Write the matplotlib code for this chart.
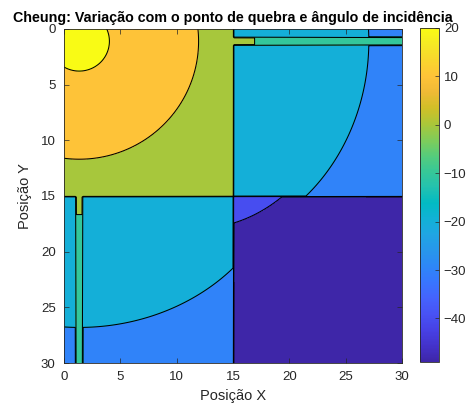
import numpy as np
import matplotlib
matplotlib.use('Agg')
import matplotlib.pyplot as plt
from matplotlib.colors import LinearSegmentedColormap, Normalize
from matplotlib.cm import ScalarMappable

plt.rcParams['font.family'] = ['Liberation Sans', 'DejaVu Sans']
plt.rcParams['contour.negative_linestyle'] = 'solid'

# Room layout (m): transmitter near the corner, walls at x = 15 and y = 15
tx = (1.35, 1.10)
wall_x = 15.0
wall_y = 15.0
strip_half = 0.33

# Cheung model parameters
p_ref = 27.17       # received power at 1 m (dBm)
n1 = 1.675          # exponent before the breakpoint
n2 = 2.2            # exponent after the breakpoint
d_break = 20.0      # breakpoint distance (m)
wall_loss = 22.98   # wall attenuation at normal incidence (dB)
angle_loss = 2.2    # extra loss scaled by 1/cos(theta)
second_wall = 0.895 # weight of the second wall crossed
strip_loss = 7.2    # loss along the wall-normal strip

levels = [-40, -30, -20, -10, 0, 10, 20]
c_min, c_max = -49, 20

# MATLAB parula colormap (sampled)
parula_pts = [
    (0.2422, 0.1504, 0.6603), (0.2647, 0.1978, 0.7952), (0.2783, 0.2559, 0.8991),
    (0.2810, 0.3228, 0.9579), (0.2699, 0.3892, 0.9906), (0.2206, 0.4603, 0.9973),
    (0.1786, 0.5289, 0.9682), (0.1540, 0.5902, 0.9218), (0.1248, 0.6459, 0.8883),
    (0.0689, 0.6948, 0.8394), (0.0067, 0.7312, 0.7660), (0.1408, 0.7584, 0.6842),
    (0.2161, 0.7843, 0.5923), (0.3406, 0.8008, 0.4789), (0.5044, 0.7993, 0.3480),
    (0.6720, 0.7793, 0.2227), (0.8203, 0.7498, 0.1535), (0.9393, 0.7288, 0.2100),
    (0.9970, 0.7659, 0.2199), (0.9786, 0.8386, 0.1766), (0.9597, 0.9135, 0.1423),
    (0.9769, 0.9839, 0.0805),
]
parula = LinearSegmentedColormap.from_list('parula', parula_pts, N=256)
norm = Normalize(vmin=c_min, vmax=c_max)

# received power over the floor plan
x = np.arange(0, 30.0001, 0.1)
X, Y = np.meshgrid(x, x)
dx = X - tx[0]
dy = Y - tx[1]
d = np.maximum(np.hypot(dx, dy), 0.1)

pr = np.where(d <= d_break,
              p_ref - 10 * n1 * np.log10(d),
              p_ref - 10 * n1 * np.log10(d_break) - 10 * n2 * np.log10(d / d_break))

cross_x = X > wall_x
cross_y = Y > wall_y
loss_x = np.where(np.abs(dy) < strip_half, strip_loss,
                  wall_loss + angle_loss * (d / (np.abs(dx) + 1e-9) - 1))
loss_y = np.where(np.abs(dx) < strip_half, strip_loss,
                  wall_loss + angle_loss * (d / (np.abs(dy) + 1e-9) - 1))

loss = np.where(cross_x, loss_x, 0.0)
loss += np.where(cross_y & ~cross_x, loss_y, 0.0)
loss += np.where(cross_y & cross_x, second_wall * wall_loss, 0.0)

Z = np.minimum(pr - loss, 25.0)

fig = plt.figure(figsize=(4.66, 4.05), dpi=100)
ax = fig.add_axes([64 / 466, 42 / 405, 338 / 466, 334 / 405])
cax = fig.add_axes([420 / 466, 43 / 405, 19 / 466, 334 / 405])

bounds = [-100] + levels + [100]
fill_colors = [parula(norm(c_min))] + [parula(norm(l)) for l in levels]
ax.contourf(X, Y, Z, levels=bounds, colors=fill_colors)
ax.contour(X, Y, Z, levels=levels, colors='k', linewidths=0.75,
           linestyles='solid')

ax.set_xlim(0, 30)
ax.set_ylim(30, 0)
ax.set_xticks(range(0, 31, 5))
ax.set_yticks(range(0, 31, 5))
txt = (0.15, 0.15, 0.15)
ax.tick_params(direction='in', length=3.5, width=0.5, labelsize=9.5,
               colors=txt, top=True, right=True, pad=6)
for s in ax.spines.values():
    s.set_linewidth(0.6)
    s.set_color(txt)

ax.set_xlabel('Posição X', fontsize=10.5, color=txt, labelpad=4)
ax.set_ylabel('Posição Y', fontsize=10.5, color=txt, labelpad=6)
ax.set_title('Cheung: Variação com o ponto de quebra e ângulo de incidência',
             fontsize=10.3, fontweight='bold', pad=5)

sm = ScalarMappable(norm=norm, cmap=parula)
cb = fig.colorbar(sm, cax=cax)
cb.set_ticks([-40, -30, -20, -10, 0, 10, 20])
cb.ax.tick_params(direction='in', length=3, width=0.5, labelsize=9.5, colors=txt)
cb.outline.set_linewidth(0.6)
cb.outline.set_edgecolor(txt)

fig.savefig('out.png', dpi=100)
